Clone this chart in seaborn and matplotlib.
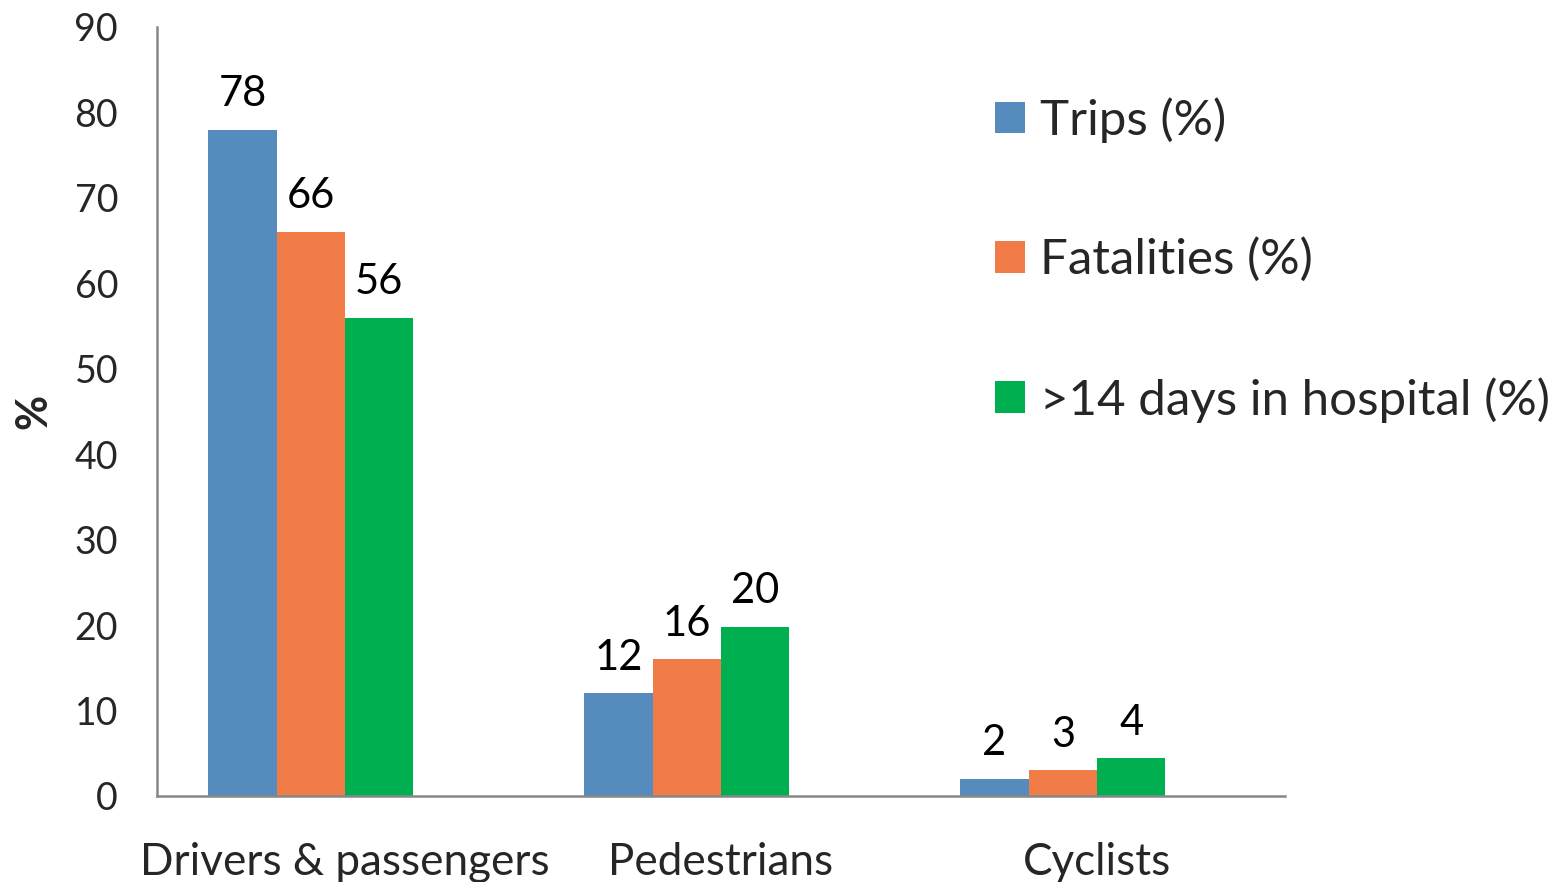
import matplotlib
matplotlib.use("Agg")
import matplotlib.pyplot as plt
import seaborn as sns
import pandas as pd
from matplotlib.patches import Patch

categories = ["Drivers & passengers", "Pedestrians", "Cyclists"]
series = ["Trips (%)", "Fatalities (%)", ">14 days in hospital (%)"]
trips = [78, 12, 2]
fatalities = [66, 16, 3]
hospital = [56, 19.8, 4.4]
trips_labels = ["78", "12", "2"]
fatalities_labels = ["66", "16", "3"]
hospital_labels = ["56", "20", "4"]
colors = ["#558BBD", "#F27C48", "#00AF50"]
yticks = [0, 10, 20, 30, 40, 50, 60, 70, 80, 90]

values = [trips, fatalities, hospital]
labels = [trips_labels, fatalities_labels, hospital_labels]

rows = []
for s, vals in zip(series, values):
    for c, v in zip(categories, vals):
        rows.append({"category": c, "series": s, "value": v})
df = pd.DataFrame(rows)

sns.set_style("white")
plt.rcParams["font.family"] = ["Lato", "DejaVu Sans"]

fig = plt.figure(figsize=(15.62, 8.82), dpi=100)
ax = fig.add_axes([157 / 1562, 86 / 882, (1285 - 157) / 1562, (796 - 27) / 882])

# the source chart reserves a slot for an empty fourth series in each group
hue_levels = series + ["(empty)"]
palette = dict(zip(hue_levels, colors + ["#FFFFFF"]))
sns.barplot(data=df, x="category", y="value", hue="series", order=categories,
            hue_order=hue_levels, palette=palette, width=0.727, saturation=1,
            linewidth=0, ax=ax, legend=False)

for cont, labs in zip(ax.containers, labels):
    for patch, lab in zip(cont.patches, labs):
        ax.annotate(lab, (patch.get_x() + patch.get_width() / 2, patch.get_height()),
                    xytext=(0, 17), textcoords="offset points",
                    ha="center", va="baseline", fontsize=30, color="black")

ax.set_xlim(-0.5, 2.5)
ax.set_ylim(0, 90)
ax.set_yticks(yticks)
ax.set_yticklabels([str(t) for t in yticks], fontsize=27)
ax.set_xticks(range(len(categories)))
ax.set_xticklabels(categories, fontsize=31.7)
ax.set_xticks([-0.5, 0.5, 1.5, 2.5], minor=True)
ax.tick_params(axis="x", which="major", length=0, pad=33)
ax.tick_params(axis="x", which="minor", length=8, width=1.6, color="#878787", direction="out")
ax.tick_params(axis="y", which="major", length=6, width=1.6, color="#878787", direction="out", pad=22)
ax.set_xlabel("")
ax.set_ylabel("%", fontsize=31, fontweight="bold")
ax.yaxis.set_label_coords(-0.092, 0.5)

for side in ["top", "right"]:
    ax.spines[side].set_visible(False)
for side in ["left", "bottom"]:
    ax.spines[side].set_color("#878787")
    ax.spines[side].set_linewidth(1.8)

handles = [Patch(facecolor=c, edgecolor="none") for c in colors]
fig.legend(handles, series, loc="upper left", bbox_to_anchor=(995 / 1562, 1 - 97 / 882),
           frameon=False, fontsize=35.5, handlelength=0.61, handleheight=0.61,
           handletextpad=0.3, labelspacing=1.92, borderpad=0, borderaxespad=0)

fig.savefig("out.png", dpi=100)
